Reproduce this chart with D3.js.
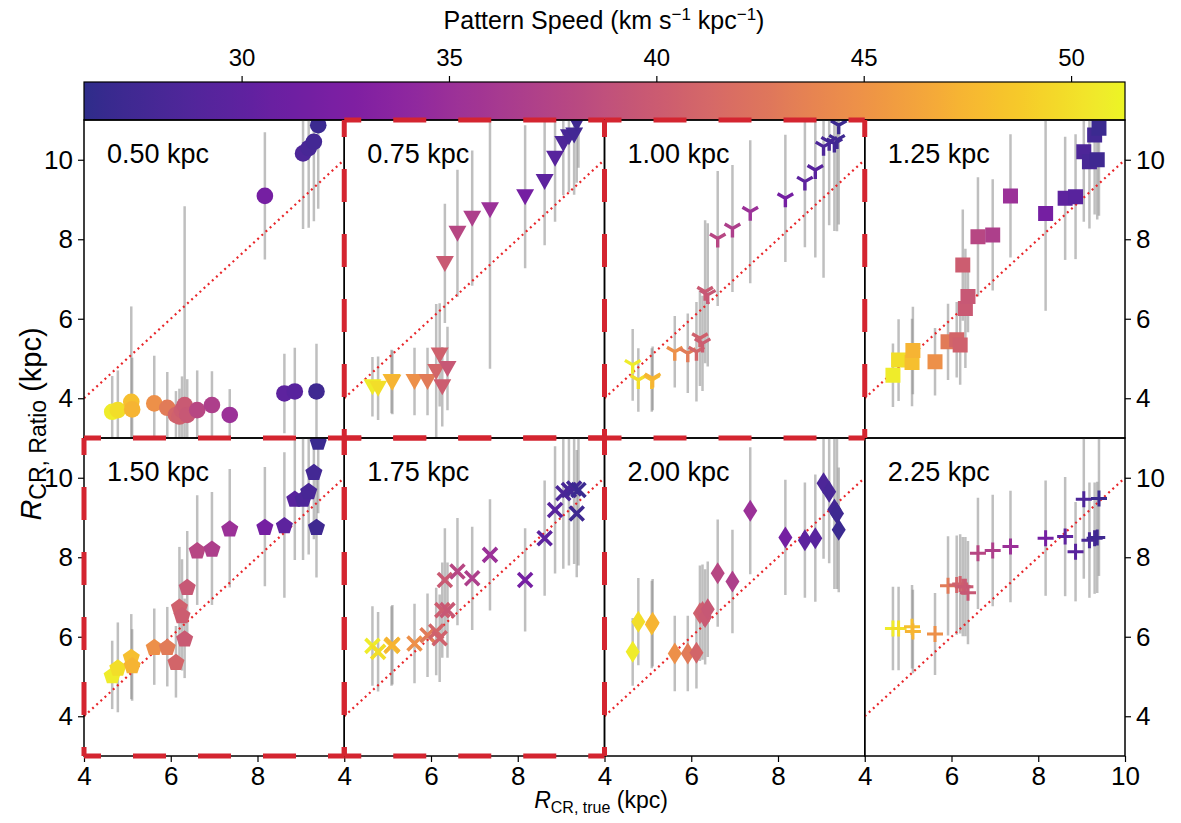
<!DOCTYPE html>
<meta charset="utf-8">
<title>R_CR ratio vs true</title>
<style>
  body { margin: 0; background: #fff; }
  text { font-family: "Liberation Sans", Arial, sans-serif; fill: #000; }
</style>
<body>
<script src="https://cdn.jsdelivr.net/npm/d3@7"></script>
<script>

// true corotation radius (kpc) and pattern speed of each simulation
const rTrue = [4.65, 4.78, 5.09, 5.11, 5.62, 5.92, 6.12, 6.20, 6.26, 6.32, 6.38, 6.61, 6.95, 7.36, 8.17, 8.62, 8.86, 9.05, 9.18, 9.30, 9.36, 9.40];
const patternSpeed = [50.8, 50.0, 48.0, 47.3, 44.8, 43.0, 41.0, 40.6, 40.2, 39.9, 39.6, 37.8, 36.8, 35.2, 31.8, 29.8, 29.4, 28.4, 28.0, 27.6, 27.3, 27.0];

// R_CR from the ratio method, one pair of arrays per aperture
const rRatio050 = [3.66, 3.70, 3.91, 3.72, 3.87, 3.76, 3.58, 3.54, 3.70, 3.83, 3.58, 3.70, 3.83, 3.58, 9.09, 4.12, 4.17, 10.16, 10.29, 10.45, 4.17, 10.87];
const rErr050   = [0.9, 1.0, 2.4, 1.3, 1.2, 0.9, 0.6, 0.7, 0.85, 5.0, 0.9, 1.0, 0.85, 0.65, 1.6, 1.0, 1.1, 1.9, 2.0, 2.0, 1.2, 2.1];
const rRatio075 = [4.29, 4.25, 4.42, 4.40, 4.42, 4.42, 4.67, 5.09, 4.29, 7.39, 4.75, 8.15, 8.53, 8.74, 9.07, 9.45, 10.04, 10.41, 10.58, 10.62, 10.92, 11.3];
const rErr075   = [0.75, 0.8, 0.8, 0.8, 0.85, 0.85, 1.7, 1.3, 1.0, 1.5, 1.05, 1.6, 1.7, 4.0, 1.8, 1.6, 1.6, 1.3, 1.4, 1.5, 1.5, 1.5];
const rRatio100 = [4.84, 4.46, 4.46, 4.50, 5.17, 5.13, 5.17, 5.51, 5.38, 6.68, 6.60, 8.02, 8.27, 8.69, 9.03, 9.45, 9.74, 10.33, 10.45, 10.41, 10.50, 10.87];
const rErr100   = [0.9, 0.8, 0.8, 0.8, 0.9, 1.0, 1.25, 1.2, 1.2, 1.8, 1.8, 1.7, 1.6, 1.8, 1.6, 1.65, 2.2, 3.3, 2.1, 2.2, 2.3, 2.5];
const rRatio125 = [4.58, 4.96, 4.90, 5.20, 4.92, 5.42, 5.47, 5.34, 7.35, 6.26, 6.56, 8.06, 8.11, 9.09, 8.65, 9.03, 9.07, 10.20, 9.95, 10.62, 10.00, 10.79];
const rErr125   = [0.8, 1.03, 1.1, 1.1, 0.85, 0.96, 0.95, 1.0, 1.4, 1.5, 0.9, 1.5, 1.4, 1.55, 2.45, 1.55, 1.57, 1.76, 1.68, 2.0, 1.5, 2.2];
const rRatio150 = [5.04, 5.23, 5.50, 5.29, 5.75, 5.75, 5.37, 6.76, 6.55, 5.96, 7.26, 8.18, 8.22, 8.73, 8.77, 8.81, 9.48, 9.48, 9.67, 10.15, 8.77, 10.91];
const rErr150   = [0.86, 1.13, 1.07, 0.9, 0.96, 1.0, 0.9, 1.5, 1.4, 1.0, 1.4, 1.38, 1.42, 1.49, 1.5, 1.83, 1.55, 1.55, 1.6, 1.7, 1.28, 1.8];
const rRatio175 = [5.77, 5.62, 5.77, 5.80, 5.83, 6.04, 6.13, 5.96, 6.67, 7.43, 6.67, 7.64, 7.47, 8.06, 7.43, 8.48, 9.19, 9.61, 9.69, 9.73, 9.10, 9.69];
const rErr175   = [1.0, 1.0, 1.0, 1.0, 1.0, 1.05, 1.1, 1.1, 1.2, 1.3, 1.2, 1.35, 1.3, 1.4, 1.3, 1.45, 1.6, 1.9, 1.9, 1.9, 1.6, 1.9];
const rRatio200 = [5.62, 6.38, 6.31, 6.35, 5.58, 5.58, 5.60, 6.59, 6.62, 6.50, 6.69, 7.60, 7.39, 9.17, 8.50, 8.43, 8.48, 9.86, 9.65, 9.20, 9.10, 8.69];
const rErr200   = [0.85, 1.1, 1.1, 1.1, 0.95, 0.95, 0.9, 1.2, 1.2, 1.2, 1.2, 1.35, 1.3, 1.6, 1.45, 1.45, 1.6, 1.9, 1.8, 2.0, 1.9, 1.57];
const rRatio225 = [6.21, 6.21, 6.25, 6.13, 6.07, 7.28, 7.30, 7.33, 7.26, 7.26, 7.11, 8.10, 8.17, 8.27, 8.48, 8.52, 8.14, 9.46, 8.43, 8.48, 8.50, 9.48];
const rErr225   = [1.05, 1.05, 1.05, 1.05, 1.03, 1.25, 1.25, 1.25, 1.25, 1.25, 1.3, 1.4, 1.4, 1.4, 1.45, 1.5, 1.25, 2.0, 1.45, 1.4, 1.4, 1.95];

const apertures = ["0.50 kpc", "0.75 kpc", "1.00 kpc", "1.25 kpc", "1.50 kpc", "1.75 kpc", "2.00 kpc", "2.25 kpc"];
const markers = ["o", "v", "1", "s", "p", "x", "d", "+"];
const ratios = [rRatio050, rRatio075, rRatio100, rRatio125, rRatio150, rRatio175, rRatio200, rRatio225];
const errors = [rErr050, rErr075, rErr100, rErr125, rErr150, rErr175, rErr200, rErr225];
const highlighted = [1, 2, 4, 5];

const xTicks = [4, 6, 8];
const yTicks = [4, 6, 8, 10];
const colorTicks = [30, 35, 40, 45, 50];

const W = 1181, H = 823;
const plotLeft = 84, plotRight = 1125, plotTop = 120, rowH = 318;
const colW = (plotRight - plotLeft) / 4;
const cbTop = 82, cbBottom = 120;
const fontFam = '"Liberation Sans", Arial, sans-serif';

const svg = d3.select("body").append("svg")
    .attr("width", W)
    .attr("height", H);
const defs = svg.append("defs");

// plasma, washed out at the dark end like the printed figure
const color = d3.scaleSequential(t => d3.interpolateRgb(d3.interpolatePlasma(t), "#7a8290")(0.27 * Math.pow(1 - t, 1.2) + 0.03))
    .domain([26.2, 51.3]);

// ---- colorbar
const grad = defs.append("linearGradient").attr("id", "cbgrad");
d3.range(0, 1.0001, 0.02).forEach(t => {
  grad.append("stop").attr("offset", t).attr("stop-color", color.interpolator()(t));
});
svg.append("rect")
    .attr("x", plotLeft).attr("y", cbTop)
    .attr("width", plotRight - plotLeft).attr("height", cbBottom - cbTop)
    .style("fill", "url(#cbgrad)")
    .style("stroke", "#000").style("stroke-width", 1.2);

const cbScale = d3.scaleLinear().domain(color.domain()).range([plotLeft, plotRight]);
const cbAxis = svg.append("g")
    .attr("transform", `translate(0,${cbTop})`)
    .call(d3.axisTop(cbScale).tickValues(colorTicks).tickSize(6).tickPadding(10));
cbAxis.select(".domain").remove();
cbAxis.selectAll("text").style("font-size", "24px").style("font-family", fontFam);
cbAxis.selectAll("line").style("stroke-width", 1.2);

const cbLabel = svg.append("text")
    .attr("x", 604).attr("y", 29)
    .attr("text-anchor", "middle")
    .style("font-size", "25px");
cbLabel.append("tspan").text("Pattern Speed (km s");
cbLabel.append("tspan").attr("dy", -9).style("font-size", "17px").text("\u22121");
cbLabel.append("tspan").attr("dy", 9).text(" kpc");
cbLabel.append("tspan").attr("dy", -9).style("font-size", "17px").text("\u22121");
cbLabel.append("tspan").attr("dy", 9).text(")");

// ---- marker shapes
function markerShape(m) {
  const p = d3.path();
  if (m === "o") { p.arc(0, 0, 8.3, 0, 2 * Math.PI); return { d: p.toString(), filled: true }; }
  if (m === "v") { p.moveTo(-9, -7.5); p.lineTo(9, -7.5); p.lineTo(0, 8.5); p.closePath(); return { d: p.toString(), filled: true }; }
  if (m === "s") { p.rect(-7.5, -7.5, 15, 15); return { d: p.toString(), filled: true }; }
  if (m === "p") {
    d3.range(5).forEach(k => {
      const a = -Math.PI / 2 + k * 2 * Math.PI / 5;
      if (k === 0) p.moveTo(9 * Math.cos(a), 9 * Math.sin(a) + 1);
      else p.lineTo(9 * Math.cos(a), 9 * Math.sin(a) + 1);
    });
    p.closePath();
    return { d: p.toString(), filled: true };
  }
  if (m === "d") { p.moveTo(0, -11); p.lineTo(7, 0); p.lineTo(0, 11); p.lineTo(-7, 0); p.closePath(); return { d: p.toString(), filled: true }; }
  if (m === "x") { p.moveTo(-7, -7); p.lineTo(7, 7); p.moveTo(-7, 7); p.lineTo(7, -7); return { d: p.toString(), filled: false, w: 3.6 }; }
  if (m === "+") { p.moveTo(-8, 0); p.lineTo(8, 0); p.moveTo(0, -8); p.lineTo(0, 8); return { d: p.toString(), filled: false, w: 3 }; }
  // "1": tri_down
  p.moveTo(0, 0); p.lineTo(0, 9);
  p.moveTo(0, 0); p.lineTo(-7.8, -4.5);
  p.moveTo(0, 0); p.lineTo(7.8, -4.5);
  return { d: p.toString(), filled: false, w: 3.4 };
}

// ---- panels
apertures.forEach((label, i) => {
  const col = i % 4, row = Math.floor(i / 4);
  const x0 = plotLeft + col * colW, y0 = plotTop + row * rowH;
  const x = d3.scaleLinear().domain([4, 10]).range([x0, x0 + colW]);
  const y = d3.scaleLinear().domain([3, 11]).range([y0 + rowH, y0]);

  defs.append("clipPath").attr("id", "clip" + i)
    .append("rect").attr("x", x0).attr("y", y0).attr("width", colW).attr("height", rowH);

  const data = rTrue.map((r, k) => ({ r: r, v: ratios[i][k], e: errors[i][k], om: patternSpeed[k] }));
  const g = svg.append("g").attr("clip-path", `url(#clip${i})`);

  g.selectAll("line.err")
    .data(data)
    .enter().append("line")
      .attr("class", "err")
      .attr("x1", d => x(d.r)).attr("x2", d => x(d.r))
      .attr("y1", d => y(d.v - d.e)).attr("y2", d => y(d.v + d.e))
      .style("stroke", "#8a8a8a")
      .style("stroke-opacity", 0.55)
      .style("stroke-width", 2.5);

  g.append("line")
      .attr("x1", x(4)).attr("y1", y(4))
      .attr("x2", x(10)).attr("y2", y(10))
      .style("stroke", "#e8262a")
      .style("stroke-width", 2.2)
      .style("stroke-dasharray", "2,3.6");

  const shape = markerShape(markers[i]);
  g.selectAll("path.pt")
    .data(data)
    .enter().append("path")
      .attr("class", "pt")
      .attr("d", shape.d)
      .attr("transform", d => `translate(${x(d.r)},${y(d.v)})`)
      .style("fill", d => shape.filled ? color(d.om) : "none")
      .style("stroke", d => shape.filled ? "none" : color(d.om))
      .style("stroke-width", shape.w || 0);

  svg.append("text")
      .attr("x", x0 + 23).attr("y", y0 + 43)
      .style("font-size", "27px")
      .text(label);

  svg.append("rect")
      .attr("x", x0).attr("y", y0).attr("width", colW).attr("height", rowH)
      .style("fill", "none").style("stroke", "#000").style("stroke-width", 1.5);

  if (col === 0 || col === 3) {
    const ax = svg.append("g")
        .attr("transform", `translate(${col === 0 ? x0 : x0 + colW},0)`)
        .call((col === 0 ? d3.axisLeft(y) : d3.axisRight(y))
          .tickValues(yTicks).tickFormat(d3.format("d")).tickSize(6).tickPadding(5));
    ax.select(".domain").remove();
    ax.selectAll("text").style("font-size", "26px").style("font-family", fontFam);
    ax.selectAll("line").style("stroke-width", 1.2);
  }
  if (row === 1) {
    const ax = svg.append("g")
        .attr("transform", `translate(0,${y0 + rowH})`)
        .call(d3.axisBottom(x)
          .tickValues(col === 3 ? xTicks.concat([10]) : xTicks).tickFormat(d3.format("d")).tickSize(6).tickPadding(5));
    ax.select(".domain").remove();
    ax.selectAll("text").style("font-size", "26px").style("font-family", fontFam);
    ax.selectAll("line").style("stroke-width", 1.2);
  }
});

// red dashed frames on the highlighted apertures
highlighted.forEach(i => {
  const col = i % 4, row = Math.floor(i / 4);
  const x0 = plotLeft + col * colW, y0 = plotTop + row * rowH;
  const x1 = x0 + colW, y1 = y0 + rowH;
  [[x0, y0, x1, y0], [x0, y0, x0, y1], [x0, y1, x1, y1], [x1, y0, x1, y1]].forEach(s => {
    svg.append("line")
        .attr("x1", s[0]).attr("y1", s[1]).attr("x2", s[2]).attr("y2", s[3])
        .style("stroke", "#d42530")
        .style("stroke-width", 5)
        .style("stroke-dasharray", "33,32")
        .style("stroke-dashoffset", 16);
  });
});

// ---- axis titles
const yLab = svg.append("text")
    .attr("transform", `translate(41,424) rotate(-90)`)
    .attr("text-anchor", "middle")
    .style("font-size", "29px");
yLab.append("tspan").style("font-style", "italic").text("R");
yLab.append("tspan").attr("dy", 5).style("font-size", "23px").text("CR, Ratio");
yLab.append("tspan").attr("dy", -5).text(" (kpc)");

const xLab = svg.append("text")
    .attr("x", 601).attr("y", 808)
    .attr("text-anchor", "middle")
    .style("font-size", "23px");
xLab.append("tspan").style("font-style", "italic").text("R");
xLab.append("tspan").attr("dy", 5).style("font-size", "16px").text("CR, true");
xLab.append("tspan").attr("dy", -5).text(" (kpc)");

</script>
</body>
